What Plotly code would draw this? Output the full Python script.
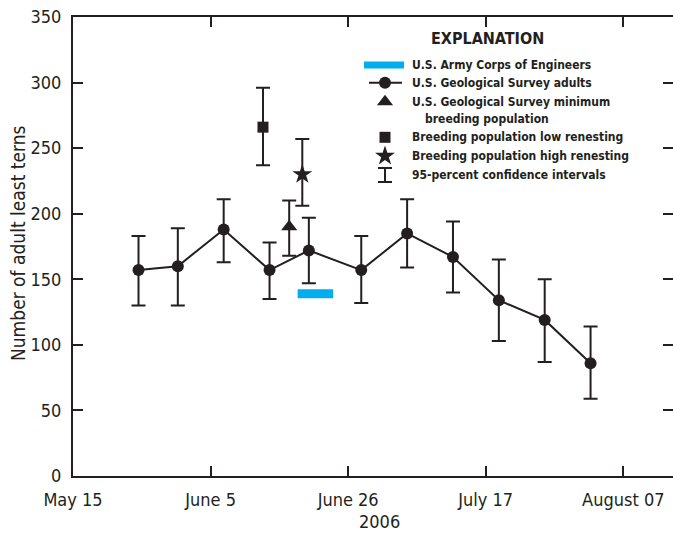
import numpy as np
import plotly.graph_objects as go

# ---------------- data ----------------
survey_dates = ["2006-05-25", "2006-05-31", "2006-06-07", "2006-06-14", "2006-06-20",
                "2006-06-28", "2006-07-05", "2006-07-12", "2006-07-19", "2006-07-26",
                "2006-08-02"]
adults = [157, 160, 188, 157, 172, 157, 185, 167, 134, 119, 86]
adults_upper = [183, 189, 211, 178, 197, 183, 211, 194, 165, 150, 114]
adults_lower = [130, 130, 163, 135, 147, 132, 159, 140, 103, 87, 59]

min_breed_date = ["2006-06-17"]
min_breed = [190]
min_breed_upper = [210]
min_breed_lower = [168]

low_renest_date = ["2006-06-13"]
low_renest = [266]
low_renest_upper = [296]
low_renest_lower = [237]

high_renest_date = ["2006-06-19"]
high_renest = [230]
high_renest_upper = [257]
high_renest_lower = [206]

corps_dates = ["2006-06-18T07:00", "2006-06-23T17:00"]
corps_value = [139, 139]

x_tick_vals = ["2006-05-15", "2006-06-05", "2006-06-26", "2006-07-17", "2006-08-07"]
x_tick_text = ["May 15", "June 5", "June 26", "July 17", "August 07"]
y_tick_vals = [0, 50, 100, 150, 200, 250, 300, 350]

# ---------------- style ----------------
INK = "#231F20"
CYAN = "#00AEEF"
FONT = "Liberation Sans Narrow, DejaVu Sans Condensed, Arial Narrow, Liberation Sans, sans-serif"

# plot-area pixel frame (for placing the explanation block)
PX0, PX1, PY0, PY1 = 73, 673, 17, 476


def px(x):
    return (x - PX0) / (PX1 - PX0)


def py(y):
    return (PY1 - y) / (PY1 - PY0)


def err(vals, up, lo):
    v = np.array(vals, dtype=float)
    return dict(type="data", symmetric=False,
                array=(np.array(up) - v).tolist(),
                arrayminus=(v - np.array(lo)).tolist(),
                color=INK, thickness=2, width=7)


fig = go.Figure()

fig.add_trace(go.Scatter(x=corps_dates, y=corps_value, mode="lines",
                         line=dict(color=CYAN, width=9), yaxis="y2",
                         hoverinfo="skip", showlegend=False))

fig.add_trace(go.Scatter(x=survey_dates, y=adults, mode="lines+markers",
                         line=dict(color=INK, width=2),
                         marker=dict(symbol="circle", size=12, color=INK),
                         error_y=err(adults, adults_upper, adults_lower),
                         showlegend=False))

fig.add_trace(go.Scatter(x=min_breed_date, y=min_breed, mode="markers",
                         marker=dict(symbol="triangle-up", size=14, color=INK),
                         error_y=err(min_breed, min_breed_upper, min_breed_lower),
                         showlegend=False))

fig.add_trace(go.Scatter(x=low_renest_date, y=low_renest, mode="markers",
                         marker=dict(symbol="square", size=11, color=INK),
                         error_y=err(low_renest, low_renest_upper, low_renest_lower),
                         showlegend=False))

fig.add_trace(go.Scatter(x=high_renest_date, y=high_renest, mode="markers",
                         marker=dict(symbol="star", size=15, color=INK),
                         error_y=err(high_renest, high_renest_upper, high_renest_lower),
                         showlegend=False))

# ---------------- explanation (legend) drawn on a pixel-like overlay axis ----------------
LX = 385  # symbol column
TX = 410  # text column
rows = [65, 82.7, 101.7, 137.3, 156, 175]

fig.add_trace(go.Scatter(x=[364, 404], y=[rows[0]] * 2, mode="lines", xaxis="x3", yaxis="y3",
                         line=dict(color=CYAN, width=7), hoverinfo="skip", showlegend=False))
fig.add_trace(go.Scatter(x=[369, 402], y=[rows[1]] * 2, mode="lines", xaxis="x3", yaxis="y3",
                         line=dict(color=INK, width=2), hoverinfo="skip", showlegend=False))
fig.add_trace(go.Scatter(x=[LX], y=[rows[1]], mode="markers", xaxis="x3", yaxis="y3",
                         marker=dict(symbol="circle", size=12, color=INK),
                         hoverinfo="skip", showlegend=False))
fig.add_trace(go.Scatter(x=[LX], y=[rows[2]], mode="markers", xaxis="x3", yaxis="y3",
                         marker=dict(symbol="triangle-up", size=14, color=INK),
                         hoverinfo="skip", showlegend=False))
fig.add_trace(go.Scatter(x=[LX], y=[rows[3]], mode="markers", xaxis="x3", yaxis="y3",
                         marker=dict(symbol="square", size=11, color=INK),
                         hoverinfo="skip", showlegend=False))
fig.add_trace(go.Scatter(x=[LX], y=[rows[4]], mode="markers", xaxis="x3", yaxis="y3",
                         marker=dict(symbol="star", size=15, color=INK),
                         hoverinfo="skip", showlegend=False))
fig.add_trace(go.Scatter(x=[LX], y=[rows[5]], mode="markers", xaxis="x3", yaxis="y3",
                         marker=dict(size=1, opacity=0),
                         error_y=dict(type="constant", value=7, color=INK, thickness=2, width=7),
                         hoverinfo="skip", showlegend=False))

legend_texts = [
    (TX, rows[0], "U.S. Army Corps of Engineers"),
    (TX, rows[1], "U.S. Geological Survey adults"),
    (TX, rows[2], "U.S. Geological Survey minimum"),
    (TX + 12.7, 119, "breeding population"),
    (TX, rows[3], "Breeding population low renesting"),
    (TX, rows[4], "Breeding population high renesting"),
    (TX, rows[5], "95-percent confidence intervals"),
]
annotations = [dict(x=px(487.7), y=py(38.3), xref="paper", yref="paper",
                    text="<b>EXPLANATION</b>",
                    showarrow=False, font=dict(family=FONT, size=16, color=INK),
                    xanchor="center", yanchor="middle")]
for x, y, t in legend_texts:
    annotations.append(dict(x=px(x), y=py(y), xref="paper", yref="paper",
                            text="<b>" + t + "</b>",
                            showarrow=False, font=dict(family=FONT, size=12, color=INK),
                            xanchor="left", yanchor="middle"))

# x-axis title and y-axis title
annotations.append(dict(x=px(379), y=py(521), xref="paper", yref="paper", text="2006",
                        showarrow=False, font=dict(family=FONT, size=18, color=INK),
                        xanchor="center", yanchor="middle"))
annotations.append(dict(x=px(18), y=py(243), xref="paper", yref="paper",
                        text="Number of adult least terns",
                        showarrow=False, textangle=-90,
                        font=dict(family=FONT, size=19, color=INK),
                        xanchor="center", yanchor="middle"))

# ---------------- layout ----------------
axis_common = dict(showgrid=False, zeroline=False)
fig.update_layout(
    width=673, height=538,
    margin=dict(l=PX0, r=673 - PX1, t=PY0, b=538 - PY1),
    paper_bgcolor="white", plot_bgcolor="white",
    font=dict(family=FONT, color=INK, size=18),
    showlegend=False,
    xaxis=dict(type="date", range=["2006-05-15", "2006-08-14T14:00"],
               tickvals=x_tick_vals, ticktext=x_tick_text,
               ticks="inside", ticklen=10, tickwidth=1.5, tickcolor=INK,
               showline=True, linewidth=2, linecolor=INK, mirror="ticks",
               tickfont=dict(family=FONT, size=18, color=INK),
               ticklabelstandoff=6,
               **axis_common),
    yaxis=dict(range=[0, 350], tickvals=y_tick_vals,
               ticks="inside", ticklen=10, tickwidth=1.5, tickcolor=INK,
               showline=True, linewidth=2, linecolor=INK, mirror=False,
               tickfont=dict(family=FONT, size=18, color=INK),
               ticklabelstandoff=6,
               **axis_common),
    yaxis2=dict(range=[0, 350], tickvals=y_tick_vals, overlaying="y", side="right",
                ticks="inside", ticklen=10, tickwidth=1.5, tickcolor=INK,
                showticklabels=False, showline=False, **axis_common),
    xaxis3=dict(domain=[0, 1], range=[PX0, PX1], anchor="y3", overlaying="x",
                visible=False, **axis_common),
    yaxis3=dict(domain=[0, 1], range=[PY1, PY0], anchor="x3", overlaying="y",
                visible=False, **axis_common),
    annotations=annotations,
)

fig.write_html("out.html")
